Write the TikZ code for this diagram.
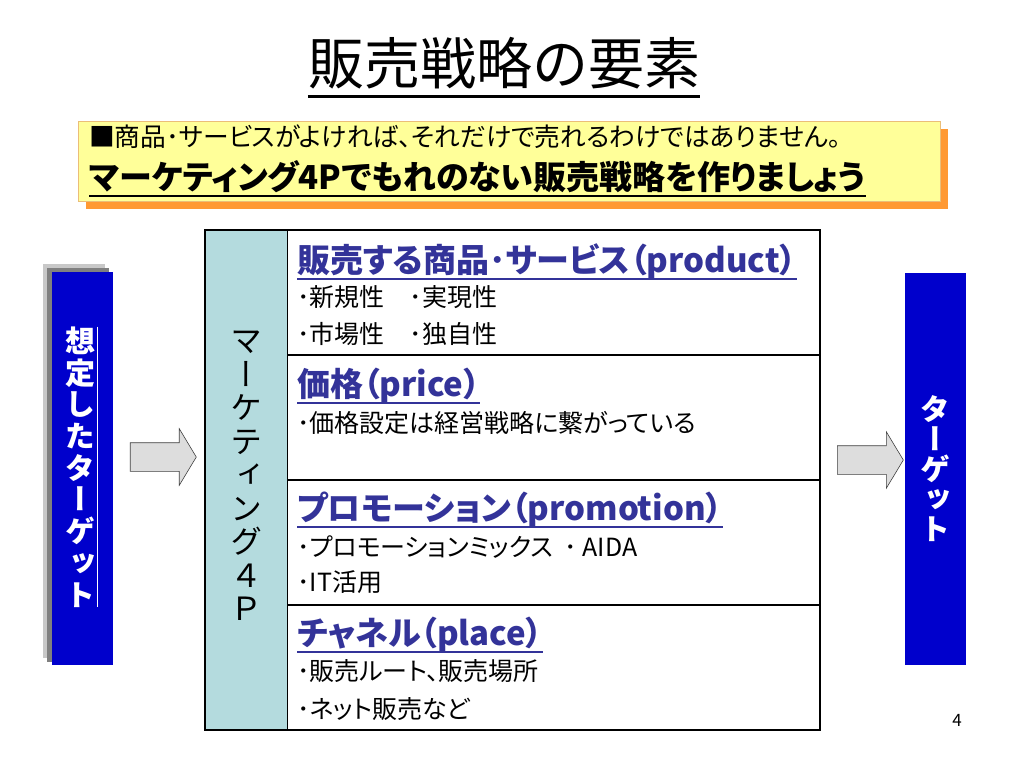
\documentclass[tikz,border=0pt]{standalone}
\usepackage{fontspec}
\setmainfont{Noto Sans CJK JP}
\newfontfamily\propjp[RawFeature=+palt]{Noto Sans CJK JP}
\newfontfamily\vertjp[RawFeature=+vert]{Noto Sans CJK JP}
\usetikzlibrary{shapes.arrows,shadows}
\definecolor{barblue}{RGB}{0,0,204}
\definecolor{colblue}{RGB}{180,219,222}
\definecolor{headblue}{RGB}{51,51,153}
\definecolor{noteyellow}{RGB}{255,255,153}
\definecolor{noteedge}{RGB}{235,190,120}
\definecolor{noteshadow}{RGB}{255,153,51}
\definecolor{arrowgray}{RGB}{221,221,221}
\definecolor{stacklight}{RGB}{200,200,200}
\definecolor{stackdark}{RGB}{128,128,128}

\begin{document}
\begin{tikzpicture}[x=1pt,y=-1pt,
    bar/.style={fill=barblue,minimum width=61pt,minimum height=393pt,inner sep=0pt},
    heading/.style={anchor=base west,inner sep=0pt,text=headblue,
      font=\propjp\bfseries\fontsize{33}{35}\selectfont},
    item/.style={anchor=base west,inner sep=0pt,font=\propjp\fontsize{25}{27}\selectfont},
    vtext/.style={align=center,inner sep=0pt},
    fatarrow/.style={single arrow,draw=black!75,fill=arrowgray,line width=0.6pt,
      minimum height=66pt,single arrow head extend=14pt,
      single arrow tip angle=118,inner xsep=0pt,inner ysep=14pt}]

    \useasboundingbox (0,0) rectangle (1024,768);

    % title
    \node[anchor=base,inner sep=0pt,font=\fontsize{56}{60}\selectfont] (title) at (504,84) {販売戦略の要素};
    \draw[line width=3pt] ([yshift=-12pt]title.base west) -- ([yshift=-12pt]title.base east);

    % note
    \node[draw=noteedge,fill=noteyellow,minimum width=862pt,minimum height=80pt,anchor=north west,
      drop shadow={shadow xshift=8pt,shadow yshift=-8pt,fill=noteshadow,opacity=1}] (note) at (78,121) {};
    \node[anchor=base west,inner sep=0pt,font=\propjp\fontsize{25.7}{28}\selectfont] (note1) at (89,146)
      {■商品･サービスがよければ、それだけで売れるわけではありません。};
    \node[anchor=base west,inner sep=0pt,font=\propjp\bfseries\fontsize{33}{35}\selectfont] (note2) at (89,189)
      {マーケティング4Pでもれのない販売戦略を作りましょう};
    \draw[line width=2.5pt] ([yshift=-7pt]note2.base west) -- ([yshift=-7pt]note2.base east);

    % left target
    \node[fill=stacklight,minimum width=62pt,minimum height=394pt,inner sep=0pt] (stackb) at (74,461) {};
    \node[fill=stackdark,minimum width=62pt,minimum height=394pt,inner sep=0pt] (stacka) at (78,465) {};
    \node[bar] (target0) at (82.5,468.5) {};
    \node[vtext,text=white,font=\vertjp\bfseries\fontsize{30}{31.7}\selectfont] (target0text) at (80,467)
      {想\\定\\し\\た\\タ\\ー\\ゲ\\ッ\\ト};
    \draw[white,line width=1pt] ([xshift=2pt]target0text.north east) -- ([xshift=2pt]target0text.south east);

    % right target
    \node[bar,minimum height=392pt] (target1) at (935.5,469) {};
    \node[vtext,text=white,font=\vertjp\bfseries\fontsize{30}{30}\selectfont] (target1text) at (target1)
      {タ\\ー\\ゲ\\ッ\\ト};

    % arrows
    \node[fatarrow] (arrowin) at (159,457) {};
    \node[fatarrow] (arrowout) at (866,460) {};

    % marketing mix table
    \node[fill=colblue,minimum width=82pt,minimum height=500pt,inner sep=0pt] (mixcol) at (246,480) {};
    \node[draw,line width=1.6pt,minimum width=615pt,minimum height=500pt,inner sep=0pt] (mix) at (512.5,480) {};
    \draw[line width=1.2pt] (mixcol.north east) -- (mixcol.south east);
    \foreach \y in {355,480,605}
      \draw[line width=1.2pt] (mixcol.east |- 0,\y) -- (mix.east |- 0,\y);
    \node[vtext,font=\vertjp\fontsize{32}{33.5}\selectfont] (mixname) at (246,476)
      {マ\\ー\\ケ\\テ\\ィ\\ン\\グ\\４\\Ｐ};

    % product
    \node[heading] (product) at (297,272) {販売する商品･サービス（product）};
    \node[item] (product1) at (297,306) {･新規性　･実現性};
    \node[item] (product2) at (297,343) {･市場性　･独自性};
    % price
    \node[heading] (price) at (297,396) {価格（price）};
    \node[item] (price1) at (297,432) {･価格設定は経営戦略に繋がっている};
    % promotion
    \node[heading] (promotion) at (297,520) {プロモーション（promotion）};
    \node[item] (promotion1) at (297,556) {･プロモーションミックス \ ･ AIDA};
    \node[item] (promotion2) at (297,591) {･IT活用};
    % place
    \node[heading] (place) at (297,645) {チャネル（place）};
    \node[item] (place1) at (297,680) {･販売ルート、販売場所};
    \node[item] (place2) at (297,718) {･ネット販売など};
    \foreach \h in {product,price,promotion,place}
      \draw[headblue,line width=2pt] ([yshift=-7pt]\h.base west) -- ([yshift=-7pt]\h.base east);

    \node[font=\fontsize{17}{19}\selectfont] (page) at (957,720) {4};
\end{tikzpicture}
\end{document}
